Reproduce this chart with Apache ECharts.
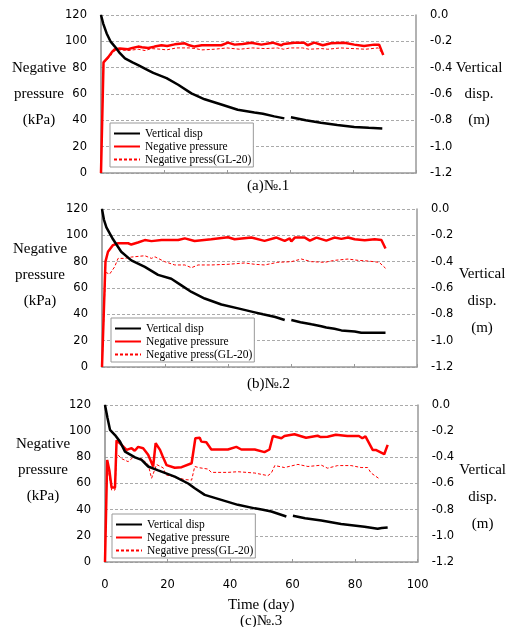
<!DOCTYPE html>
<html>
<head>
<meta charset="utf-8">
<script src="https://cdn.jsdelivr.net/npm/echarts@6/dist/echarts.min.js"></script>
<style>
  html, body { margin: 0; padding: 0; background: #fff; }
  #chart { width: 509px; height: 627px; }
</style>
</head>
<body>
<div id="chart"></div>
<script>
// series names (legend)
var seriesNames = ['Vertical disp', 'Negative pressure', 'Negative press(GL-20)'];
var captions = ['(a)№.1', '(b)№.2', '(c)№.3'];
// axis names; the blank line nudges the name off the panel centre like the original
var leftNames = ['Negative\npressure\n(kPa)', 'Negative\npressure\n(kPa)\n', 'Negative\npressure\n(kPa)\n'];
var rightNames = ['Vertical\ndisp.\n(m)', '\nVertical\ndisp.\n(m)', '\nVertical\ndisp.\n(m)'];

// [day, displacement (m)] -- null = gap in the record
var disp1 = [[0, 0], [0.7, -0.065], [1.8, -0.14], [3, -0.2], [4.4, -0.24], [6, -0.29], [7.6, -0.33], [10, -0.36], [11.8, -0.38], [15, -0.42], [16.6, -0.44], [20.8, -0.48], [24.5, -0.53], [28.7, -0.595], [32.9, -0.64], [38.2, -0.68], [43.4, -0.72], [48.7, -0.74], [51.4, -0.75], [55, -0.77], [58.2, -0.785], [59.2, null], [60.3, -0.777], [65, -0.8], [69.8, -0.818], [75, -0.835], [80.4, -0.85], [85, -0.857], [89.3, -0.862]];
var disp2 = [[0, 0], [0.6, -0.08], [1.4, -0.14], [3.5, -0.23], [6.1, -0.325], [9.3, -0.39], [13.6, -0.44], [17.8, -0.5], [22, -0.53], [25.2, -0.58], [28.4, -0.63], [32.6, -0.68], [37.9, -0.725], [43.2, -0.755], [48.5, -0.785], [51.1, -0.8], [55, -0.82], [58, -0.843], [59, null], [60.1, -0.843], [63, -0.86], [66.5, -0.876], [69.6, -0.89], [71.2, -0.9], [73.8, -0.91], [76, -0.922], [80.2, -0.93], [82.3, -0.94], [86.6, -0.94], [90, -0.94]];
var disp3 = [[0, 0], [0.8, -0.1], [1.6, -0.19], [3.2, -0.23], [4.8, -0.28], [6.4, -0.356], [9.6, -0.4], [11.7, -0.42], [13.8, -0.47], [17, -0.5], [22.3, -0.547], [26.6, -0.6], [28.7, -0.636], [31.9, -0.687], [37.2, -0.725], [42.5, -0.763], [47.9, -0.79], [50.5, -0.8], [53.2, -0.814], [58, -0.852], [59, null], [60.1, -0.847], [64, -0.865], [69.2, -0.883], [75.5, -0.91], [83, -0.93], [87.2, -0.946], [88.5, -0.94], [90.4, -0.936]];

// [day, negative pressure (kPa)]
var pres1 = [[0, 0], [0.8, 84], [2.3, 88], [3.5, 92], [4.4, 94], [6, 94.5], [8.6, 94], [10, 95], [11.8, 96], [13, 95.5], [15, 95], [17, 96], [19.2, 97], [21, 96.5], [23.4, 97.7], [26.6, 98.5], [28, 97], [29.7, 96], [32, 97], [35, 97], [38.2, 97], [40.3, 99], [42.4, 97.5], [45, 98], [47.7, 99], [50.9, 97.5], [54.5, 99], [57.2, 97], [58, 98], [61.4, 99], [64.5, 99], [65.6, 97], [67.7, 99], [70.4, 97], [73, 98.5], [77.2, 99], [80.4, 97.5], [83.5, 96.5], [86.7, 97.5], [88.3, 97.5], [89.6, 89.6]];
var pres2 = [[0, 0], [1.1, 80], [1.9, 87.5], [3.5, 92.6], [5.1, 94], [8.3, 94], [9.3, 93], [11.4, 94.6], [13.6, 96.4], [15.7, 95.6], [18.9, 96.4], [24.2, 96.4], [26.3, 97.7], [29.4, 95.7], [34.7, 97], [40, 98.5], [42.1, 97], [47.4, 98.3], [51.6, 95.8], [55.4, 98.3], [58, 95.8], [59.6, 97.7], [60.1, 95.3], [61.2, 98.3], [64.4, 98.3], [66, 96], [68.1, 98.3], [71.2, 96], [73.8, 98.3], [76, 97.3], [78.1, 98.3], [80.2, 97], [83.4, 96.3], [86.6, 97], [88.7, 96.4], [90, 90]];
var pres3 = [[0, 0], [0.7, 78], [1.4, 70], [2.1, 57], [3.2, 57], [3.7, 93], [5.3, 89.5], [6.9, 85.7], [8.5, 87], [9.5, 85], [10.6, 88], [12.2, 87], [13.8, 82], [15.4, 73], [16.2, 90.8], [17.6, 85.7], [18.4, 81], [19.7, 74], [22.3, 72], [24.5, 72.5], [27.7, 75.5], [28.2, 75.5], [28.9, 94.6], [30.3, 95], [30.8, 92], [32.4, 91.5], [34, 86], [39.3, 86], [42, 88], [43.6, 86], [47.9, 86], [51, 84], [52.6, 86], [53.7, 96.3], [56.4, 94.6], [57.4, 96.3], [60.6, 97.6], [64.3, 95], [68, 96.5], [69, 95.5], [69.6, 96.5], [71.2, 95.7], [73.8, 97.3], [77.5, 96.3], [81.2, 96.3], [82.3, 94.6], [83.3, 96], [85.6, 85.7], [86.6, 85.7], [87.7, 84.4], [89.3, 82.4], [90.4, 89.5]];

// [day, negative pressure at GL-20 (kPa)]
var gl1 = [[0, 0], [0.8, 84], [2.3, 87], [4.4, 93], [6, 93.5], [8.6, 93], [11.8, 94], [14, 93], [16, 94.5], [19, 94], [20.8, 93.5], [24, 95], [28, 95], [30, 94.5], [32, 93.5], [36, 94], [40, 95], [44, 94], [48, 95], [52, 94.5], [56, 95], [58, 94], [60, 95], [64, 95], [66, 94], [70, 94.5], [72, 94], [76, 95], [80, 94.5], [84, 94], [88, 95], [89.6, 90]];
var gl2 = [[0, 0], [1.1, 72], [2.4, 70.5], [4, 76], [5.1, 82.5], [7.2, 82.5], [9.3, 83.5], [13.6, 84.5], [15.7, 82.5], [16.8, 83.7], [19.9, 80], [23.1, 77.5], [26.3, 77.5], [28.4, 75.4], [30.5, 77.5], [34.7, 77.5], [40, 78], [45.3, 79], [48.5, 78], [51.6, 77.5], [55.8, 79.5], [60.1, 80], [63.3, 82], [66.5, 80], [70.7, 79.5], [73.8, 81], [78.1, 82], [81.3, 81], [84.4, 80.5], [88, 79.5], [90, 75]];
var gl3 = [[0, 0], [0.7, 78], [1.4, 65], [2.1, 55], [3.2, 55], [3.7, 83], [5.3, 79], [7.4, 76.7], [9, 80], [11.7, 79], [13.8, 74.5], [14.9, 64], [16.5, 74.5], [18.6, 72], [19.5, 66.6], [22.3, 65], [25.5, 63], [27.7, 62.6], [28.7, 73], [30.3, 72], [33, 71], [34, 68.5], [39.3, 68.5], [42.5, 69], [47.9, 68], [52.1, 66], [53.2, 68], [54.3, 73.7], [57.4, 72.2], [61.7, 74.6], [64.9, 73], [69.2, 74], [71.2, 71.7], [74.4, 73.7], [78.7, 73.7], [81.9, 72.2], [84, 72.2], [85.1, 68], [87.8, 63.5]];

var dispData = [disp1, disp2, disp3];
var presData = [pres1, pres2, pres3];
var glData = [gl1, gl2, gl3];

// panel boxes (left, top, width, height)
var grids = [
  { left: 101, top: 15, width: 315, height: 158 },
  { left: 102, top: 209, width: 315, height: 158 },
  { left: 105, top: 405, width: 313, height: 157 }
];
var legendPos = [{ left: 110, top: 123 }, { left: 111, top: 318 }, { left: 112, top: 514 }];
var captionPos = [{ left: 247, top: 179 }, { left: 247, top: 377 }, { left: 240, top: 614 }];

var serif = 'Liberation Serif';
var sans = 'DejaVu Sans';

var option = {
  backgroundColor: '#fff',
  animation: false,
  title: [],
  legend: [],
  grid: grids,
  xAxis: [],
  yAxis: [],
  series: []
};

for (let i = 0; i < 3; i++) {
  let last = i == 2;
  option.title.push({
    text: captions[i],
    left: captionPos[i].left,
    top: captionPos[i].top,
    padding: 0,
    textStyle: { fontFamily: serif, fontSize: 15, fontWeight: 'normal', color: '#000' }
  });
  option.legend.push({
    orient: 'vertical',
    left: legendPos[i].left,
    top: legendPos[i].top,
    data: seriesNames,
    itemWidth: 26,
    itemHeight: 13,
    itemGap: 0,
    padding: [4, 2, 1, 3],
    borderColor: '#999',
    borderWidth: 1,
    backgroundColor: '#fff',
    selectedMode: false,
    itemStyle: { opacity: 0 },
    textStyle: { fontFamily: serif, fontSize: 11.5, color: '#000', lineHeight: 13 }
  });
  option.xAxis.push({
    type: 'value',
    gridIndex: i,
    min: 0,
    max: 100,
    interval: 20,
    name: last ? 'Time (day)' : '',
    nameLocation: 'middle',
    nameGap: 36,
    nameMoveOverlap: false,
    nameTextStyle: { fontFamily: serif, fontSize: 15, color: '#000' },
    axisLine: { lineStyle: { color: '#999', width: 1.5 } },
    axisTick: { inside: true, length: 3, lineStyle: { color: '#999' } },
    axisLabel: { show: last, margin: 17, fontFamily: sans, fontSize: 11.5, color: '#000' },
    splitLine: { show: false }
  });
  // left: negative pressure
  option.yAxis.push({
    type: 'value',
    gridIndex: i,
    position: 'left',
    min: 0,
    max: 120,
    interval: 20,
    name: leftNames[i],
    nameLocation: 'middle',
    nameRotate: 0,
    nameGap: 62,
    nameMoveOverlap: false,
    nameTextStyle: { fontFamily: serif, fontSize: 15, color: '#000', lineHeight: 26, align: 'center' },
    axisLine: { show: true, lineStyle: { color: '#888', width: 1.5 } },
    axisTick: { show: false },
    axisLabel: { margin: 14, fontFamily: sans, fontSize: 11.5, color: '#000' },
    splitLine: { lineStyle: { color: '#aaa', type: [3, 2] } }
  });
  // right: vertical displacement
  option.yAxis.push({
    type: 'value',
    gridIndex: i,
    position: 'right',
    min: -1.2,
    max: 0,
    interval: 0.2,
    name: rightNames[i],
    nameLocation: 'middle',
    nameRotate: 0,
    nameGap: i == 0 ? 63 : 65,
    nameMoveOverlap: false,
    nameTextStyle: { fontFamily: serif, fontSize: 15, color: '#000', lineHeight: i == 0 ? 26 : 27, align: 'center' },
    axisLine: { show: true, lineStyle: { color: '#999', width: 1.5 } },
    axisTick: { show: false },
    axisLabel: {
      margin: 14, fontFamily: sans, fontSize: 11.5, color: '#000',
      formatter: function (v) { return v.toFixed(1); }
    },
    splitLine: { show: false }
  });

  option.series.push({
    name: seriesNames[0],
    type: 'line',
    xAxisIndex: i,
    yAxisIndex: i * 2 + 1,
    data: dispData[i],
    symbol: 'none',
    lineStyle: { color: '#000', width: 2.5 },
    itemStyle: { color: '#000' },
    z: 3
  });
  option.series.push({
    name: seriesNames[1],
    type: 'line',
    xAxisIndex: i,
    yAxisIndex: i * 2,
    data: presData[i],
    symbol: 'none',
    lineStyle: { color: '#ff0000', width: 2.5 },
    itemStyle: { color: '#ff0000' },
    z: 2
  });
  option.series.push({
    name: seriesNames[2],
    type: 'line',
    xAxisIndex: i,
    yAxisIndex: i * 2,
    data: glData[i],
    symbol: 'none',
    lineStyle: { color: '#ff0000', width: 1, type: [3, 2] },
    itemStyle: { color: '#ff0000' },
    z: 2
  });
}

var chart = echarts.init(document.getElementById('chart'), null, { renderer: 'canvas' });
chart.setOption(option);
</script>
</body>
</html>
